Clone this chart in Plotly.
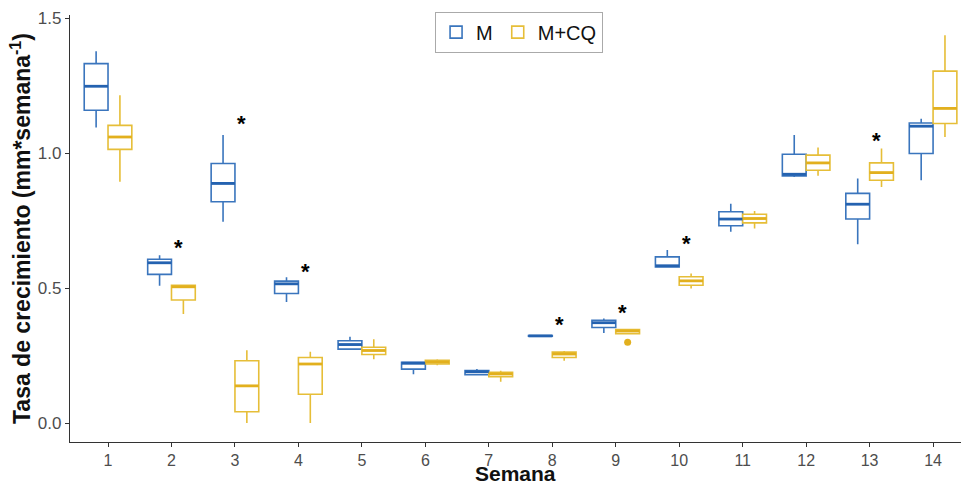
import plotly.graph_objects as go

# Weekly growth-rate summaries (five-number box stats) per treatment
weeks = [1, 2, 3, 4, 5, 6, 7, 8, 9, 10, 11, 12, 13, 14]

m_low = [1.095, 0.509, 0.746, 0.449, 0.272, 0.181, 0.178, 0.321, 0.334, 0.578, 0.709, 0.912, 0.663, 0.900]
m_q1 = [1.159, 0.551, 0.820, 0.480, 0.274, 0.200, 0.179, 0.322, 0.354, 0.579, 0.731, 0.916, 0.756, 0.999]
m_med = [1.248, 0.594, 0.888, 0.516, 0.291, 0.222, 0.190, 0.323, 0.372, 0.583, 0.756, 0.922, 0.811, 1.100]
m_q3 = [1.332, 0.607, 0.962, 0.526, 0.305, 0.225, 0.195, 0.324, 0.381, 0.616, 0.783, 0.996, 0.851, 1.112]
m_high = [1.378, 0.622, 1.067, 0.540, 0.320, 0.226, 0.200, 0.325, 0.388, 0.641, 0.813, 1.067, 0.906, 1.128]

cq_low = [0.894, 0.404, 0.000, 0.000, 0.237, 0.214, 0.153, 0.231, 0.328, 0.499, 0.721, 0.916, 0.875, 1.060]
cq_q1 = [1.014, 0.456, 0.042, 0.107, 0.254, 0.219, 0.172, 0.243, 0.331, 0.511, 0.742, 0.937, 0.900, 1.110]
cq_med = [1.060, 0.505, 0.138, 0.219, 0.269, 0.226, 0.182, 0.256, 0.341, 0.527, 0.758, 0.964, 0.928, 1.166]
cq_q3 = [1.103, 0.511, 0.231, 0.243, 0.281, 0.233, 0.188, 0.263, 0.347, 0.542, 0.774, 0.993, 0.964, 1.304]
cq_high = [1.215, 0.512, 0.270, 0.264, 0.311, 0.237, 0.194, 0.267, 0.350, 0.554, 0.786, 1.021, 1.017, 1.437]

# Outlying observation (M+CQ)
cq_out_week = [9]
cq_out_val = [0.300]

# Significance markers
star_weeks = [2, 3, 4, 8, 9, 10, 13]
star_y = [0.663, 1.120, 0.574, 0.378, 0.422, 0.678, 1.060]

series_names = ["M", "M+CQ"]
x_title = "Semana"
y_title = "Tasa de crecimiento (mm*semana<sup>-1</sup>)"

blue = "#3A75BD"
blue_dark = "#2462B0"
yellow = "#E6BE38"
yellow_dark = "#E2B01E"

box_w = 0.375  # width of each dodged box in x units
offsets = [-box_w / 2, box_w / 2]

fig = go.Figure()

stats = [
    (m_low, m_q1, m_med, m_q3, m_high, blue, blue_dark),
    (cq_low, cq_q1, cq_med, cq_q3, cq_high, yellow, yellow_dark),
]

for name, (lo, q1, med, q3, hi, col, _) in zip(series_names, stats):
    fig.add_trace(go.Box(
        name=name, x=weeks, q1=q1, median=med, q3=q3,
        lowerfence=lo, upperfence=hi,
        fillcolor="white", line=dict(color=col, width=1.6),
        whiskerwidth=0, boxpoints=False, hoverinfo="skip",
        offsetgroup=name,
    ))

# Thicker median bars on top of the boxes
for (lo, q1, med, q3, hi, col, dcol), off in zip(stats, offsets):
    xs, ys = [], []
    for w, m in zip(weeks, med):
        xs += [w + off - box_w / 2, w + off + box_w / 2, None]
        ys += [m, m, None]
    fig.add_trace(go.Scatter(x=xs, y=ys, mode="lines", line=dict(color=dcol, width=2.8),
                             showlegend=False, hoverinfo="skip"))

fig.add_trace(go.Scatter(
    x=[w + offsets[1] for w in cq_out_week], y=cq_out_val, mode="markers",
    marker=dict(color=yellow_dark, size=7), showlegend=False, hoverinfo="skip",
))

for w, yv in zip(star_weeks, star_y):
    fig.add_annotation(x=w + 0.11, y=yv, text="<b>*</b>", showarrow=False,
                       font=dict(size=22, color="black", family="Liberation Sans"),
                       yanchor="middle", xanchor="center", yshift=-3)

# x-axis title placed just under the tick labels
fig.add_annotation(x=0.5, xref="paper", y=-0.103, yref="paper", text=f"<b>{x_title}</b>",
                   showarrow=False, xanchor="center", yanchor="bottom", borderpad=0,
                   font=dict(size=21, color="#111"))

fig.update_layout(
    width=961, height=486,
    margin=dict(l=70, r=0, t=15, b=44),
    plot_bgcolor="white", paper_bgcolor="white",
    boxmode="group", boxgap=0.25, boxgroupgap=0,
    font=dict(family="Liberation Sans", color="#222"),
    legend=dict(orientation="h", x=0.504, xanchor="center", y=1.008, yanchor="top",
                bordercolor="#AAAAAA", borderwidth=1, bgcolor="white",
                font=dict(size=20, color="#111"), itemwidth=30, tracegroupgap=0),
    xaxis=dict(
        range=[0.401, 14.44], tickmode="array", tickvals=weeks,
        ticktext=[str(w) for w in weeks], automargin=False,
        showline=True, linecolor="#333333", linewidth=1.3, showgrid=False, zeroline=False,
        ticks="outside", ticklen=4, tickcolor="#333333", tickwidth=1.2,
        tickfont=dict(size=16, color="#4D4D4D"),
    ),
    yaxis=dict(
        range=[-0.07, 1.512], tickvals=[0.0, 0.5, 1.0, 1.5],
        ticktext=["0.0", "0.5", "1.0", "1.5"], automargin=False,
        showline=True, linecolor="#333333", linewidth=1.3, showgrid=False, zeroline=False,
        ticks="outside", ticklen=4, tickcolor="#333333", tickwidth=1.2,
        tickfont=dict(size=17, color="#4D4D4D"),
        title=dict(text=f"<b>{y_title}</b>", font=dict(size=23, color="#111"), standoff=0),
    ),
)

fig.write_html("out.html")
